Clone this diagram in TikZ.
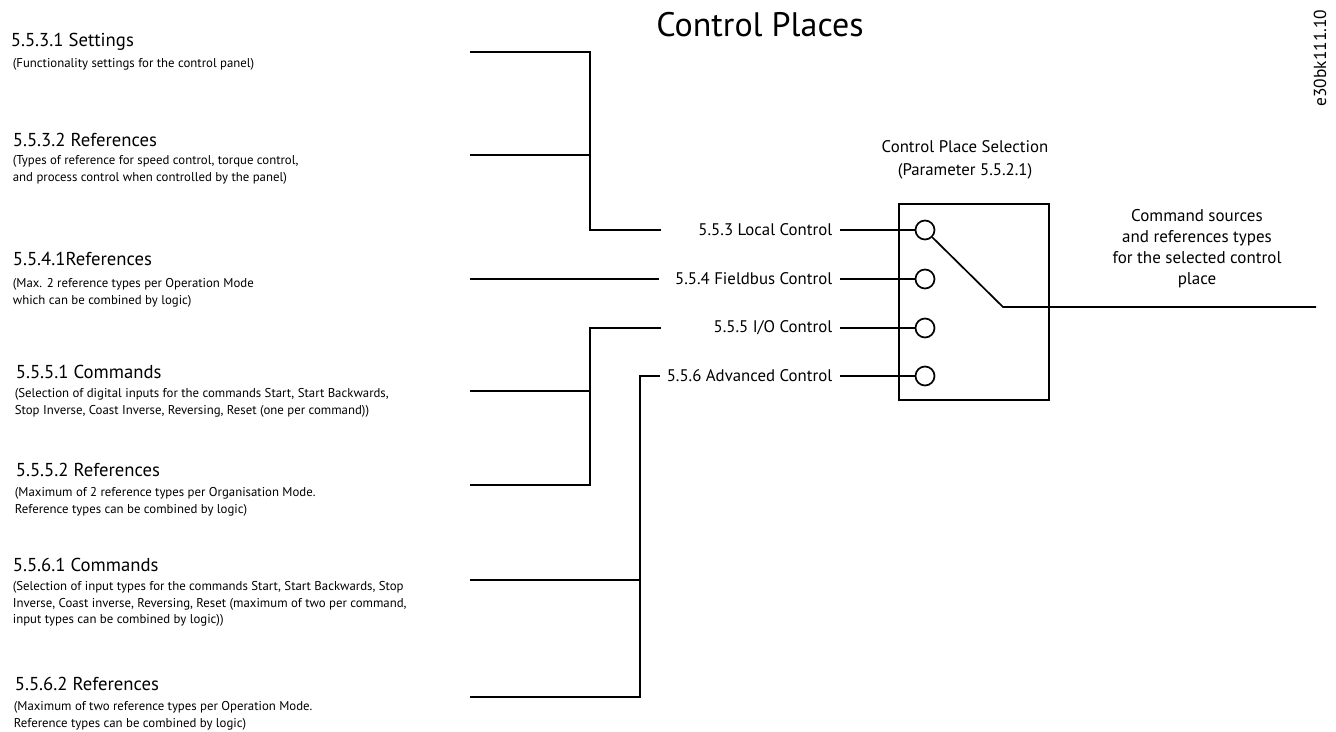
\documentclass[tikz,border=0pt]{standalone}
\usepackage{fontspec}
\setmainfont{PT Sans}
\usetikzlibrary{positioning}

\begin{document}
\begin{tikzpicture}[x=1pt,y=-1pt,line width=1.7pt,
 hd/.style={anchor=west,inner sep=0pt,font=\fontsize{18.7}{22}\selectfont},
 sub/.style={anchor=north west,inner sep=0pt,align=left,font=\fontsize{12.8}{16.5}\selectfont},
 lab/.style={anchor=east,inner sep=0pt,font=\fontsize{16.8}{20}\selectfont},
 sw/.style={draw,circle,minimum size=19pt,inner sep=0pt,fill=white}]
\useasboundingbox (0,0) rectangle (1336,731);
\node[font=\fontsize{34}{40}\selectfont] (title) at (760,25) {Control Places};
\node[rotate=90,font=\fontsize{17.4}{20}\selectfont] (code) at (1320,58) {e30bk111.10};
% left column
\node[hd] (h1) at (10,42) {5.5.3.1 Settings};
\node[sub] (d1) at (12,58) {(Functionality settings for the control panel)};
\node[hd] (h2) at (12,140) {5.5.3.2 References};
\node[sub] (d2) at (12,155) {(Types of reference for speed control, torque control,\\and process control when controlled by the panel)};
\node[hd] (h3) at (12,259) {5.5.4.1References};
\node[sub] (d3) at (12,278) {(Max. 2 reference types per Operation Mode\\which can be combined by logic)};
\node[hd] (h4) at (15,372) {5.5.5.1 Commands};
\node[sub] (d4) at (14,388) {(Selection of digital inputs for the commands Start, Start Backwards,\\Stop Inverse, Coast Inverse, Reversing, Reset (one per command))};
\node[hd] (h5) at (15,470) {5.5.5.2 References};
\node[sub] (d5) at (14,487) {(Maximum of 2 reference types per Organisation Mode.\\Reference types can be combined by logic)};
\node[hd] (h6) at (12,565) {5.5.6.1 Commands};
\node[sub] (d6) at (12,581) {(Selection of input types for the commands Start, Start Backwards, Stop\\Inverse, Coast inverse, Reversing, Reset (maximum of two per command,\\input types can be combined by logic))};
\node[hd] (h7) at (14,684) {5.5.6.2 References};
\node[sub] (d7) at (13,701) {(Maximum of two reference types per Operation Mode.\\Reference types can be combined by logic)};
% line ends
\coordinate (a1) at (470,52);
\coordinate (a2) at (470,155);
\coordinate (a3) at (470,279);
\coordinate (a4) at (470,391);
\coordinate (a5) at (470,485);
\coordinate (a6) at (470,580);
\coordinate (a7) at (470,697);
\coordinate (j1) at (661,230);
\coordinate (j2) at (659,279);
\coordinate (j3) at (661,328);
\coordinate (j4) at (660,376);
% selector
\node[draw,anchor=north west,minimum width=150pt,minimum height=196pt] (sel) at (898,203) {};
\node[align=center,font=\fontsize{16.8}{23}\selectfont] (seltxt) at (965,160) {Control Place Selection\\(Parameter 5.5.2.1)};
\node[sw] (c1) at (925,230) {};
\node[sw] (c2) at (925,279) {};
\node[sw] (c3) at (925,328) {};
\node[sw] (c4) at (925,376) {};
\node[lab] (l1) at (833,230) {5.5.3 Local Control};
\node[lab] (l2) at (833,279) {5.5.4 Fieldbus Control};
\node[lab] (l3) at (833,328) {5.5.5 I/O Control};
\node[lab] (l4) at (833,376) {5.5.6 Advanced Control};
\node[align=center,font=\fontsize{17}{21}\selectfont] (cmd) at (1197,249) {Command sources\\and references types\\for the selected control\\place};
\coordinate (pv) at (1003,307);
\coordinate (out) at (1316,307);
% connectors
\draw (a1) -| (590,230) -- (j1);
\draw (a2) -- (590,155);
\draw (a3) -- (j2);
\draw (a5) -| (590,328) -- (j3);
\draw (a4) -- (590,391);
\draw (a7) -| (640,376) -- (j4);
\draw (a6) -- (640,580);
\draw ([xshift=7pt]l1.east) -- (c1.west);
\draw ([xshift=7pt]l2.east) -- (c2.west);
\draw ([xshift=7pt]l3.east) -- (c3.west);
\draw ([xshift=7pt]l4.east) -- (c4.west);
\draw (c1.-45) -- (pv) -- (out);
\end{tikzpicture}
\end{document}
